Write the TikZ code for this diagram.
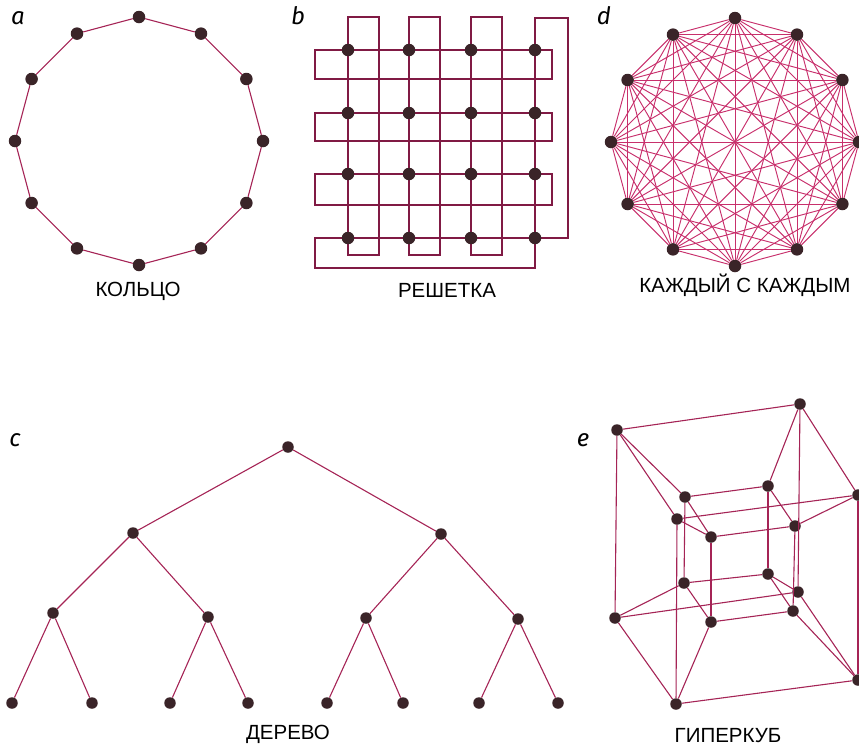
\documentclass[tikz,border=0pt]{standalone}
\usepackage{fontspec}
\setmainfont{Liberation Sans}
\newfontfamily\letterfont{Fira Sans}
\usetikzlibrary{positioning}
\definecolor{wirecol}{RGB}{128,26,68}
\definecolor{linkcol}{RGB}{165,36,86}
\definecolor{meshcol}{RGB}{200,48,108}
\definecolor{dotcol}{RGB}{58,36,40}

\begin{document}
\begin{tikzpicture}[
    x=1pt, y=-1pt,
    dot/.style={
        circle, fill=dotcol, inner sep=0pt, minimum size=12.5pt
    },
    small dot/.style={
        dot, minimum size=11.5pt
    },
    link/.style={
        linkcol, line width=1.1pt
    },
    wire/.style={
        wirecol, line width=1.6pt
    },
    mesh/.style={
        meshcol, line width=0.95pt
    },
    title/.style={
        font=\fontsize{20.5}{23}\selectfont, anchor=base
    },
    tag/.style={
        font=\letterfont\itshape\fontsize{24}{26}\selectfont
    }
]
\useasboundingbox (0,0) rectangle (859,745);

% a: ring
\foreach \i in {0,...,11}
    \node[dot] (r\i) at ([shift={(139,141)}]90+30*\i:124) {};
\foreach \i [evaluate=\i as \j using {int(mod(\i+1,12))}] in {0,...,11}
    \draw[link] (r\i) -- (r\j);
\node[tag] (ringtag) at (18,18) {a};
\node[title] (ringname) at (138,296) {КОЛЬЦО};

% b: lattice with wrap-around wires
\foreach \x in {348,409,471}
    \draw[wire] (\x,17) rectangle (\x+31,255);
\foreach \y/\h in {50/29,113/28,174/31}
    \draw[wire] (315,\y) rectangle (552,\y+\h);
\draw[wire] (315,238) -- (568,238) -- (568,18) -- (535,18)
    -- (535,268) -- (315,268) -- cycle;
\foreach \x [count=\c] in {348,409,471,535}
    \foreach \y [count=\r] in {50,113,174,238}
        \node[dot] (g\c\r) at (\x,\y) {};
\node[tag] (gridtag) at (298,16) {b};
\node[title] (gridname) at (447,297) {РЕШЕТКА};

% d: everyone with everyone
\foreach \i in {0,...,11}
    \node[dot] (k\i) at ([shift={(735,142)}]90+30*\i:124) {};
\foreach \i in {0,...,10} {
    \pgfmathtruncatemacro\first{\i+1}
    \foreach \j in {\first,...,11}
        \draw[mesh] (k\i) -- (k\j);
}
\node[tag] (meshtag) at (604,16) {d};
\node[title] (meshname) at (745,292) {КАЖДЫЙ С КАЖДЫМ};

% c: tree
\node[small dot] (t0) at (288,447) {};
\node[small dot] (t1) at (133,533) {};
\node[small dot] (t2) at (441,534) {};
\node[small dot] (t3) at (53,613) {};
\node[small dot] (t4) at (208,617) {};
\node[small dot] (t5) at (366,618) {};
\node[small dot] (t6) at (518,619) {};
\foreach \x [count=\n from 7] in {12,92,170,248,327,403,479,558}
    \node[small dot] (t\n) at (\x,703) {};
\foreach \p/\c in {0/1,0/2,1/3,1/4,2/5,2/6,3/7,3/8,4/9,4/10,5/11,5/12,6/13,6/14}
    \draw[link] (t\p) -- (t\c);
\node[tag] (treetag) at (15,440) {c};
\node[title] (treename) at (288,739) {ДЕРЕВО};

% e: hypercube
\node[small dot] (o1) at (617,430) {};
\node[small dot] (o2) at (800,404) {};
\node[small dot] (o3) at (858,495) {};
\node[small dot] (o4) at (677,519) {};
\node[small dot] (o5) at (615,618) {};
\node[small dot] (o6) at (798,592) {};
\node[small dot] (o7) at (858,680) {};
\node[small dot] (o8) at (676,704) {};
\node[small dot] (i1) at (685,497) {};
\node[small dot] (i2) at (768,486) {};
\node[small dot] (i3) at (795,526) {};
\node[small dot] (i4) at (711,537) {};
\node[small dot] (i5) at (684,583) {};
\node[small dot] (i6) at (768,574) {};
\node[small dot] (i7) at (793,611) {};
\node[small dot] (i8) at (711,622) {};
\foreach \a/\b in {1/2,2/3,3/4,4/1,5/6,6/7,7/8,8/5,1/5,2/6,3/7,4/8} {
    \draw[link] (o\a) -- (o\b);
    \draw[link] (i\a) -- (i\b);
}
\foreach \k in {1,...,8}
    \draw[link] (o\k) -- (i\k);
\node[tag] (cubetag) at (583,440) {e};
\node[title] (cubename) at (728,742) {ГИПЕРКУБ};

\end{tikzpicture}
\end{document}
